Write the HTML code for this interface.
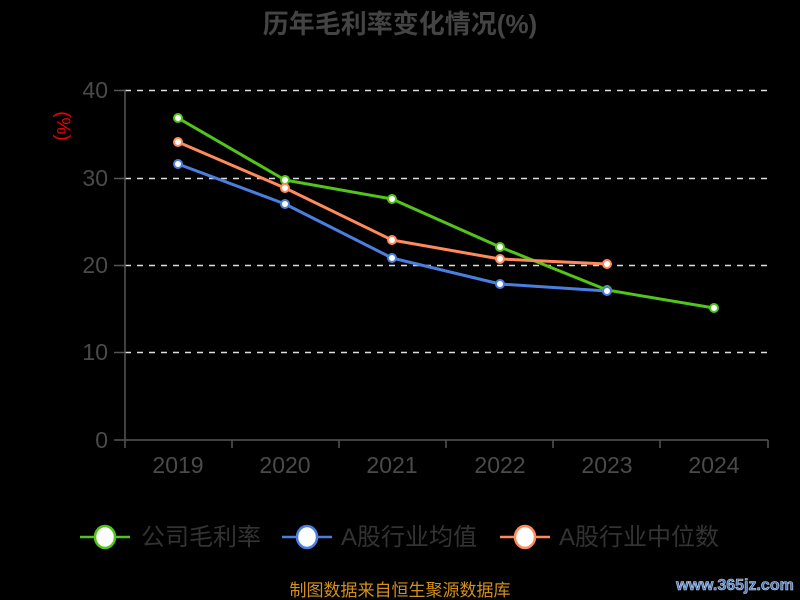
<!DOCTYPE html>
<html><head><meta charset="utf-8"><style>
html,body{margin:0;padding:0;background:#000;}
svg{display:block;}
text{font-family:"Liberation Sans","Noto Sans CJK SC",sans-serif;}
</style></head><body>
<svg width="800" height="600" viewBox="0 0 800 600" xmlns="http://www.w3.org/2000/svg">
<rect width="800" height="600" fill="#000"/>
<text x="400" y="33" text-anchor="middle" font-size="26" font-weight="bold" fill="#444">历年毛利率变化情况(%)</text>
<g stroke="#ddd" stroke-width="1.5" stroke-dasharray="6,6">
<line x1="125" y1="90.5" x2="768" y2="90.5"/>
<line x1="125" y1="178.5" x2="768" y2="178.5"/>
<line x1="125" y1="265.5" x2="768" y2="265.5"/>
<line x1="125" y1="352.5" x2="768" y2="352.5"/>
</g>
<g stroke="#555" stroke-width="1.5">
<line x1="125" y1="90" x2="125" y2="440"/>
<line x1="114" y1="90.5" x2="125" y2="90.5"/>
<line x1="114" y1="178.5" x2="125" y2="178.5"/>
<line x1="114" y1="265.5" x2="125" y2="265.5"/>
<line x1="114" y1="352.5" x2="125" y2="352.5"/>
<line x1="114" y1="440" x2="768" y2="440"/>
<line x1="125" y1="440" x2="125" y2="448"/>
<line x1="232" y1="440" x2="232" y2="448"/>
<line x1="339" y1="440" x2="339" y2="448"/>
<line x1="446" y1="440" x2="446" y2="448"/>
<line x1="553" y1="440" x2="553" y2="448"/>
<line x1="660" y1="440" x2="660" y2="448"/>
<line x1="768" y1="440" x2="768" y2="448"/>
</g>
<g font-size="23" fill="#4a4a4a" text-anchor="end">
<text x="108" y="98">40</text><text x="108" y="186">30</text><text x="108" y="273">20</text><text x="108" y="360">10</text><text x="108" y="448">0</text>
</g>
<g font-size="23" fill="#4a4a4a" text-anchor="middle">
<text x="178" y="473">2019</text><text x="285" y="473">2020</text><text x="392" y="473">2021</text><text x="500" y="473">2022</text><text x="607" y="473">2023</text><text x="714" y="473">2024</text>
</g>
<text transform="translate(57,126) rotate(90)" font-size="19" fill="#e00" text-anchor="middle">(%)</text>
<g fill="none" stroke-width="3" stroke-linejoin="round">
<polyline stroke="#52c41a" points="178,118 285,180 392,199 500,247 607,290 714,308"/>
<polyline stroke="#4a7fdf" points="178,164 285,204 392,258 500,284 607,291"/>
<polyline stroke="#ff8a5c" points="178,142 285,188 392,240 500,259 607,264"/>
</g>
<g fill="#fff" stroke-width="2">
<g stroke="#52c41a"><circle cx="178" cy="118" r="4"/><circle cx="285" cy="180" r="4"/><circle cx="392" cy="199" r="4"/><circle cx="500" cy="247" r="4"/><circle cx="607" cy="290" r="4"/><circle cx="714" cy="308" r="4"/></g>
<g stroke="#4a7fdf"><circle cx="178" cy="164" r="4"/><circle cx="285" cy="204" r="4"/><circle cx="392" cy="258" r="4"/><circle cx="500" cy="284" r="4"/><circle cx="607" cy="291" r="4"/></g>
<g stroke="#ff8a5c"><circle cx="178" cy="142" r="4"/><circle cx="285" cy="188" r="4"/><circle cx="392" cy="240" r="4"/><circle cx="500" cy="259" r="4"/><circle cx="607" cy="264" r="4"/></g>
</g>
<g stroke-width="2.5">
<line x1="80" y1="537" x2="130" y2="537" stroke="#52c41a"/>
<ellipse cx="105" cy="537" rx="10" ry="11" fill="#fff" stroke="#52c41a"/>
<line x1="282" y1="537" x2="332" y2="537" stroke="#4a7fdf"/>
<ellipse cx="307" cy="537" rx="10" ry="11" fill="#fff" stroke="#4a7fdf"/>
<line x1="500" y1="537" x2="550" y2="537" stroke="#ff8a5c"/>
<ellipse cx="525" cy="537" rx="10" ry="11" fill="#fff" stroke="#ff8a5c"/>
</g>
<g font-size="24" fill="#333">
<text x="141" y="545">公司毛利率</text>
<text x="341" y="545">A股行业均值</text>
<text x="559" y="545">A股行业中位数</text>
</g>
<text x="400" y="596" text-anchor="middle" font-size="17" fill="#d4901a">制图数据来自恒生聚源数据库</text>
<text x="735" y="590" text-anchor="middle" font-size="16" font-weight="bold" fill="#4a78b8" stroke="#c8d8f0" stroke-width="0.6">www.365jz.com</text>
</svg>
</body></html>
